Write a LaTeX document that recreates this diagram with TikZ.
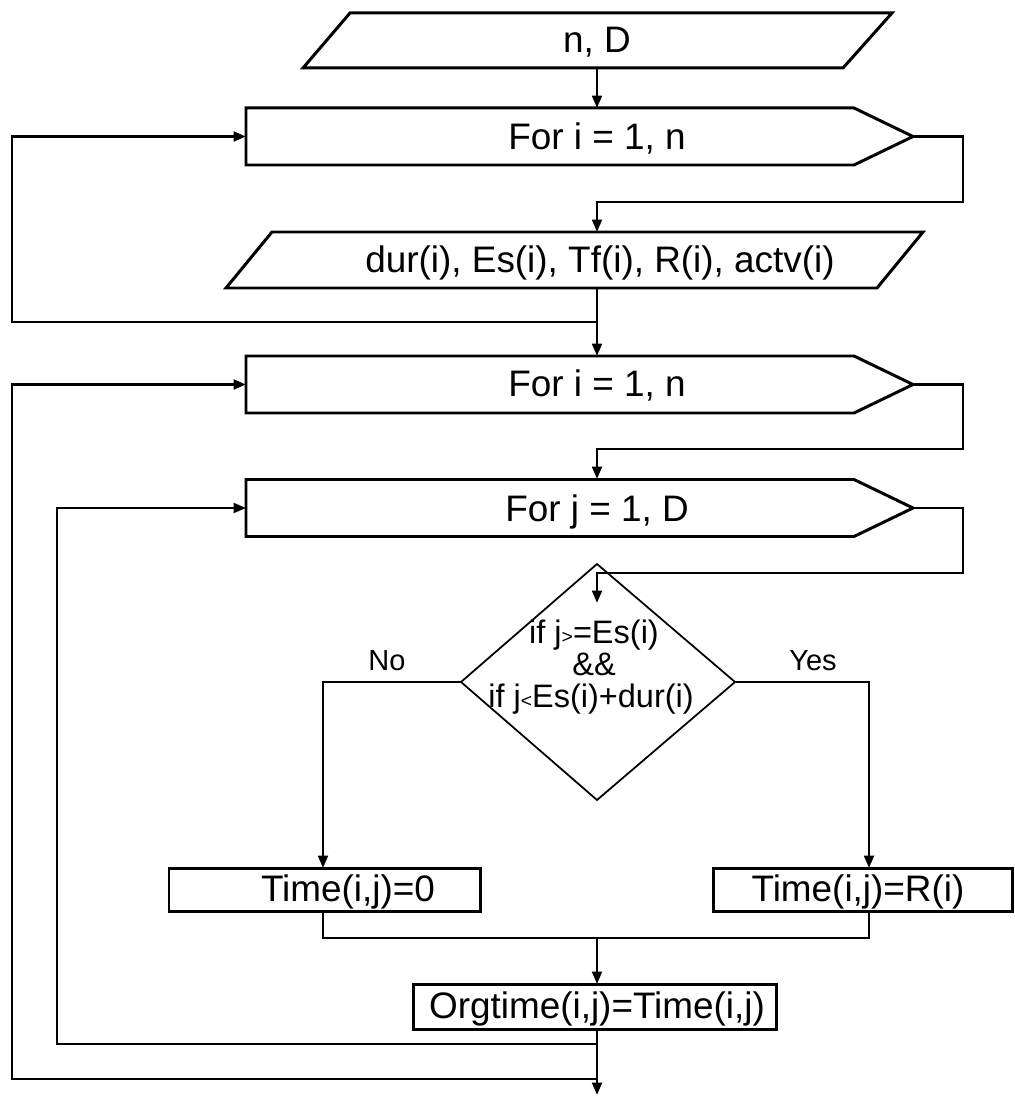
\documentclass[tikz,border=0pt]{standalone}
\usepackage{fontspec}
\setmainfont{Liberation Sans}
\usetikzlibrary{arrows.meta}
\begin{document}
\begin{tikzpicture}[x=0.02cm,y=-0.02cm,
  conn/.style={line width=1.5pt, line join=miter},
  flow/.style={conn, -{Triangle[length=7pt,width=5.5pt]}},
  boxline/.style={line width=1.7pt, line join=miter},
  dline/.style={line width=1pt, line join=miter},
  txt/.style={inner sep=0pt, anchor=base, font=\fontsize{21}{21}\selectfont},
  dtxt/.style={inner sep=0pt, anchor=base, font=\fontsize{18.5}{18.5}\selectfont},
  side/.style={inner sep=0pt, anchor=base, font=\fontsize{16.5}{16.5}\selectfont},
  forbox/.pic={\draw[boxline] (-351,-28.5) -- (257,-28.5) -- (316,0) -- (257,28.5) -- (-351,28.5) -- cycle;}
]
\newcommand{\smallrel}[1]{{\fontsize{11}{11}\selectfont #1}}
\useasboundingbox[fill=white] (0,0) rectangle (1014,1097);

% input: n, D
\draw[boxline] (350,13) -- (892,13) -- (843,68) -- (303,68) -- cycle;
\node[txt] (tnd) at (597,53) {n, D};
\coordinate (p1b) at (597,68);

% outer loop over i (reading)
\pic at (597,136.5) {forbox};
\node[txt] (tf1) at (597,149.5) {For i = 1, n};
\coordinate (f1top) at (597,108);
\coordinate (f1tip) at (913,136.5);
\coordinate (f1in) at (246,136.5);
\coordinate (r1) at (963,202);

% input of activity data
\draw[boxline] (272,232) -- (923,232) -- (877,288) -- (226,288) -- cycle;
\node[txt] (tdur) at (600,273) {dur(i), Es(i), Tf(i), R(i), actv(i)};
\coordinate (p2t) at (597,232);
\coordinate (p2b) at (597,288);
\coordinate (j1) at (597,322);
\coordinate (l1) at (12,322);

% second loop over i
\pic at (597,384.5) {forbox};
\node[txt] (tf2) at (597,397) {For i = 1, n};
\coordinate (f2top) at (597,356);
\coordinate (f2tip) at (913,384.5);
\coordinate (f2in) at (246,384.5);
\coordinate (r2) at (963,449);

% loop over j
\pic at (597,508) {forbox};
\node[txt] (tf3) at (597,521) {For j = 1, D};
\coordinate (f3top) at (597,479);
\coordinate (f3tip) at (913,508);
\coordinate (f3in) at (246,508);
\coordinate (r3) at (963,573);

% decision
\coordinate (dt) at (597,564);
\coordinate (dr) at (735,682);
\coordinate (db) at (597,800);
\coordinate (dl) at (461,682);
\coordinate (dentry) at (597,603);
\draw[dline] (dt) -- (dr) -- (db) -- (dl) -- cycle;
\node[dtxt] (c1) at (594,643) {if j\smallrel{>}=Es(i)};
\node[dtxt] (c2) at (594,675) {\&\&};
\node[dtxt] (c3) at (591,707) {if j\smallrel{<}Es(i)+dur(i)};
\node[side] (no) at (387,670) {No};
\node[side] (yes) at (813,670) {Yes};

% assignments
\draw[boxline] (169,868) rectangle (480,911);
\node[txt] (t0) at (348,901) {Time(i,j)=0};
\draw[boxline] (713,868) rectangle (1012,911);
\node[txt] (tr) at (858,901) {Time(i,j)=R(i)};
\coordinate (t0top) at (323,868);
\coordinate (t0bot) at (323,911);
\coordinate (trtop) at (869,868);
\coordinate (trbot) at (869,911);
\coordinate (m) at (597,938);

\draw[boxline] (413,984) rectangle (776,1029);
\node[txt] (org) at (597,1018) {Orgtime(i,j)=Time(i,j)};
\coordinate (otop) at (597,984);
\coordinate (obot) at (597,1029);
\coordinate (k1) at (597,1044);
\coordinate (l3) at (57,1044);
\coordinate (k2) at (597,1079);
\coordinate (l2) at (12,1079);
\coordinate (fin) at (597,1095);

% connectors
\draw[flow] (p1b) -- (f1top);
\draw[flow] (f1tip) -| (r1) -| (p2t);
\draw[flow] (p2b) -- (f2top);
\draw[flow] (j1) -- (l1) |- (f1in);
\draw[flow] (f2tip) -| (r2) -| (f3top);
\draw[flow] (f3tip) -| (r3) -| (dentry);
\draw[flow] (dl) -| (t0top);
\draw[flow] (dr) -| (trtop);
\draw[conn] (t0bot) |- (m) -| (trbot);
\draw[flow] (m) -- (otop);
\draw[flow] (obot) -- (fin);
\draw[flow] (k1) -- (l3) |- (f3in);
\draw[flow] (k2) -- (l2) |- (f2in);
\end{tikzpicture}
\end{document}
